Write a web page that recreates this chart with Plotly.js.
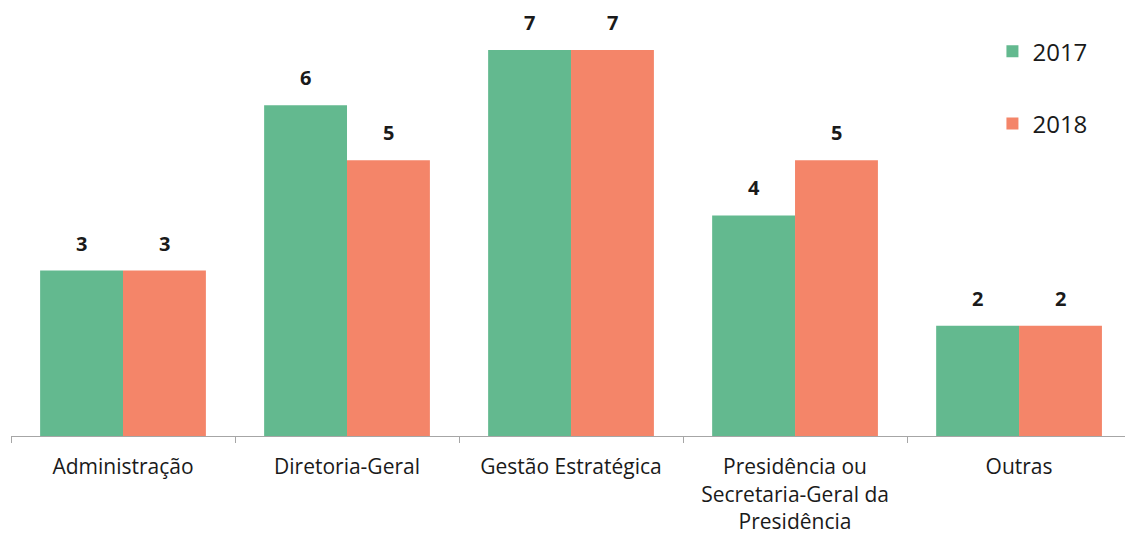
<!DOCTYPE html>
<html>
<head>
<meta charset="utf-8">
<script src="https://cdn.plot.ly/plotly-3.0.1.min.js"></script>
<style>
  html, body { margin: 0; padding: 0; background: #fff; }
  #chart { width: 1125px; height: 535px; }
</style>
</head>
<body>
<div id="chart"></div>
<script>
// categorias e valores
var categorias = ['Administração', 'Diretoria-Geral', 'Gestão Estratégica',
  'Presidência ou<br>Secretaria-Geral da<br>Presidência', 'Outras'];
var valores2017 = [3, 6, 7, 4, 2];
var valores2018 = [3, 5, 7, 5, 2];

var corVerde = 'rgb(99,185,143)';
var corLaranja = 'rgb(244,133,105)';

var trace2017 = {
  x: categorias, y: valores2017, type: 'bar', name: '2017',
  legendgroup: 'a', marker: {color: corVerde}, hoverinfo: 'none'
};
var trace2018 = {
  x: categorias, y: valores2018, type: 'bar', name: '2018',
  legendgroup: 'b', marker: {color: corLaranja}, hoverinfo: 'none'
};

// rótulos de valor acima das barras
var anotacoes = [];
categorias.forEach(function (c, i) {
  anotacoes.push({x: c, y: valores2017[i], text: '<b>' + valores2017[i] + '</b>',
    xshift: -41.5, yshift: 12, yanchor: 'bottom', showarrow: false,
    font: {size: 20, color: '#1a1a1a'}});
  anotacoes.push({x: c, y: valores2018[i], text: '<b>' + valores2018[i] + '</b>',
    xshift: 41.5, yshift: 12, yanchor: 'bottom', showarrow: false,
    font: {size: 20, color: '#1a1a1a'}});
});

var layout = {
  width: 1125, height: 535,
  margin: {l: 11, r: 0, t: 10, b: 99},
  paper_bgcolor: '#fff', plot_bgcolor: '#fff',
  font: {family: 'Open Sans, sans-serif', color: '#1a1a1a'},
  barmode: 'group', bargap: 0.26, bargroupgap: 0,
  xaxis: {
    range: [-0.5, 4.473],
    showline: true, linecolor: '#a6a6a6', linewidth: 1,
    ticks: 'outside', tickson: 'boundaries', ticklen: 6, tickcolor: '#a6a6a6',
    ticklabelstandoff: 12,
    tickfont: {size: 21}, showgrid: false, zeroline: false, fixedrange: true
  },
  yaxis: {
    range: [0, 7.726], visible: false, showgrid: false, zeroline: false, fixedrange: true
  },
  showlegend: true,
  legend: {
    x: 0.881, y: 0.955, xanchor: 'left', yanchor: 'top',
    font: {size: 24, color: '#1a1a1a'}, tracegroupgap: 38, bgcolor: 'rgba(0,0,0,0)'
  },
  annotations: anotacoes
};

Plotly.newPlot('chart', [trace2017, trace2018], layout, {displayModeBar: false, staticPlot: true});
</script>
</body>
</html>
